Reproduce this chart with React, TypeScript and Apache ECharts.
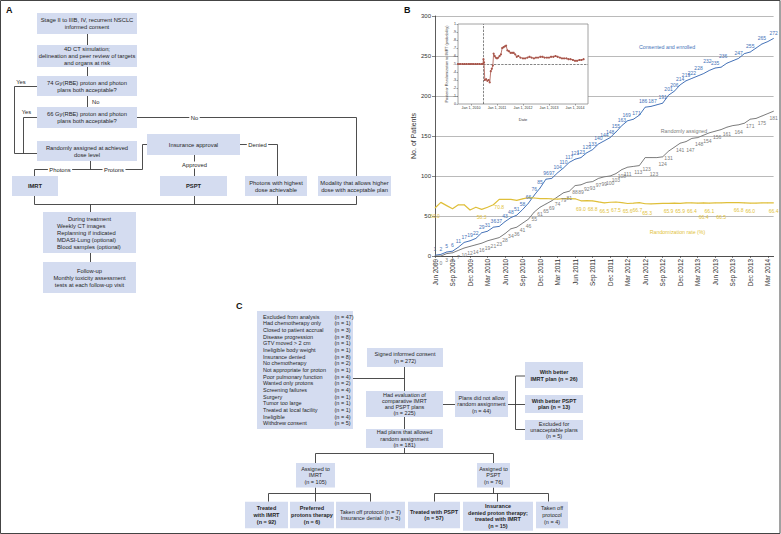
import React, { useEffect, useRef } from 'react';
import * as echarts from 'echarts';

// ---------- Panel B data ----------
const months = [
  'Jun 2009', 'Jul 2009', 'Aug 2009', 'Sep 2009', 'Oct 2009', 'Nov 2009', 'Dec 2009',
  'Jan 2010', 'Feb 2010', 'Mar 2010', 'Apr 2010', 'May 2010', 'Jun 2010', 'Jul 2010', 'Aug 2010', 'Sep 2010', 'Oct 2010', 'Nov 2010', 'Dec 2010',
  'Jan 2011', 'Feb 2011', 'Mar 2011', 'Apr 2011', 'May 2011', 'Jun 2011', 'Jul 2011', 'Aug 2011', 'Sep 2011', 'Oct 2011', 'Nov 2011', 'Dec 2011',
  'Jan 2012', 'Feb 2012', 'Mar 2012', 'Apr 2012', 'May 2012', 'Jun 2012', 'Jul 2012', 'Aug 2012', 'Sep 2012', 'Oct 2012', 'Nov 2012', 'Dec 2012',
  'Jan 2013', 'Feb 2013', 'Mar 2013', 'Apr 2013', 'May 2013', 'Jun 2013', 'Jul 2013', 'Aug 2013', 'Sep 2013', 'Oct 2013', 'Nov 2013', 'Dec 2013',
  'Jan 2014', 'Feb 2014', 'Mar 2014', 'Apr 2014',
];

const enrolled = [
  1, 2, 5, 6, 11, 17, 19, 22, 29, 31, 36, 37, 43, 48, 51, 58, 66, 76, 85, 96,
  97, 104, 110, 117, 121, 123, 129, 133, 140, 144, 148, 155, 163, 169, 171, 176, 186, 187, 189, 191,
  201, 206, 214, 219, 222, 225, 228, 232, 235, 236, 241, 244, 247, 253, 255, 260, 265, 268, 272,
];

const randomized = [
  0, 0, 3, 4, 7, 10, 12, 14, 16, 19, 21, 23, 28, 34, 36, 41, 46, 55, 61, 65,
  69, 74, 79, 81, 88, 89, 92, 93, 97, 99, 100, 103, 108, 111, 112, 113, 123, 123, 123, 124,
  131, 136, 141, 143, 147, 148, 151, 154, 156, 158, 161, 163, 164, 166, 171, 172, 175, 178, 181,
];

const randomizationRate = [
  60.0, 67, 63, 59, 64, 64, 57.5, 61, 58.3, 61, 64, 70.8, 70.8, 70.8, 69.5, 71.5, 73, 72.5, 71.8, 71.9,
  71.4, 71.1, 71.6, 71.8, 71.5, 69.0, 69.1, 68.8, 67.6, 66.5, 67.2, 67.5, 66.7, 65.6, 66.0, 66.7, 65.3, 65.1, 65.5, 65.9,
  65.9, 66.0, 65.9, 66.3, 66.4, 66.2, 66.4, 66.1, 66.3, 66.5, 66.6, 66.7, 66.8, 66.4, 66.0, 66.2, 66.3, 66.4, 66.4,
];

// month indices whose values are printed in the original
const enrolledLabeled = [
  0, 1, 2, 3, 4, 5, 6, 7, 8, 9, 10, 11, 12, 13, 14, 15, 16, 17, 18, 19, 20, 21, 22, 23, 24, 25, 26, 27, 28, 29,
  30, 31, 32, 33, 34, 36, 37, 39, 40, 41, 42, 43, 44, 46, 47, 48, 49, 52, 54, 56, 58,
];
const randomizedLabeled = [
  0, 1, 2, 3, 4, 5, 6, 7, 8, 9, 10, 11, 12, 13, 14, 15, 16, 17, 18, 19, 20, 21, 22, 23, 24, 25, 26, 27, 28, 29,
  30, 31, 32, 33, 35, 36, 37, 39, 40, 42, 44, 45, 47, 48, 50, 52, 54, 56, 58,
];
const rateLabeled = [0, 8, 11, 25, 27, 29, 31, 33, 35, 36, 40, 42, 44, 46, 47, 49, 52, 54, 58];

// inset: posterior probability of randomization to IMRT
const insetDates = [
  2009.50, 2009.58, 2009.67, 2009.75, 2009.83, 2009.92, 2010.00, 2010.08, 2010.17, 2010.25, 2010.33, 2010.42, 2010.46,
  2010.48, 2010.50, 2010.53, 2010.58, 2010.63, 2010.68, 2010.72, 2010.76, 2010.80, 2010.84, 2010.87, 2010.91, 2010.95,
  2011.00, 2011.05, 2011.10, 2011.15, 2011.20, 2011.25, 2011.30, 2011.35, 2011.40, 2011.46, 2011.52, 2011.58, 2011.64,
  2011.70, 2011.76, 2011.82, 2011.90, 2012.00, 2012.08, 2012.17, 2012.25, 2012.33, 2012.42, 2012.50, 2012.58, 2012.67,
  2012.75, 2012.83, 2012.92, 2013.00, 2013.08, 2013.17, 2013.25, 2013.33, 2013.42, 2013.50, 2013.58, 2013.67, 2013.75,
  2013.83, 2013.92, 2014.00, 2014.08, 2014.17, 2014.25, 2014.33,
];
const insetProb = [
  0.50, 0.50, 0.50, 0.50, 0.50, 0.50, 0.50, 0.50, 0.50, 0.50, 0.50, 0.50, 0.50,
  0.56, 0.52, 0.30, 0.31, 0.29, 0.30, 0.27, 0.41, 0.44, 0.48, 0.63, 0.60, 0.58,
  0.57, 0.58, 0.60, 0.62, 0.70, 0.71, 0.72, 0.73, 0.67, 0.66, 0.64, 0.64, 0.64,
  0.62, 0.59, 0.60, 0.58, 0.57, 0.57, 0.58, 0.59, 0.58, 0.57, 0.58, 0.58, 0.59,
  0.59, 0.58, 0.58, 0.58, 0.59, 0.59, 0.60, 0.59, 0.58, 0.57, 0.57, 0.57, 0.56,
  0.56, 0.55, 0.54, 0.54, 0.55, 0.55, 0.56,
];
const insetYears = [2010, 2011, 2012, 2013, 2014];

// ---------- Panel C data ----------
const excludedReasons = [
  'Excluded from analysis', 'Had chemotherapy only', 'Closed to patient accrual', 'Disease progression',
  'GTV moved > 2 cm', 'Ineligible body weight', 'Insurance denied', 'No chemotherapy',
  'Not appropriate for proton', 'Poor pulmonary function', 'Wanted only protons', 'Screening failures',
  'Surgery', 'Tumor too large', 'Treated at local facility', 'Ineligible', 'Withdrew consent',
];
const excludedCounts = [47, 1, 3, 8, 1, 1, 8, 2, 1, 4, 2, 4, 1, 1, 1, 4, 5];

// ---------- styles ----------
const FF = '"Liberation Sans", Arial, Helvetica, sans-serif';
const BOX = '#d4dcf0';
const TXT = '#262626';
const LINE = '#3a3a3a';
const BLUE = '#4673b8';
const GRAY = '#7c7c7c';
const GOLD = '#dfbf3a';
const RED = '#a9564b';

function T(text: string, x: number, y: number, o: any = {}) {
  return {
    type: 'text', x, y, silent: true, z: 10,
    style: {
      text, fill: o.color || TXT, fontSize: o.fs || 5.8, fontWeight: o.bold ? 'bold' : 'normal',
      fontFamily: FF, align: o.align || 'center', verticalAlign: o.va || 'middle', lineHeight: o.lh || 7,
      backgroundColor: o.bg, padding: o.bg ? [0, 1.5] : 0,
    },
  };
}
function R(x: number, y: number, w: number, h: number) {
  return { type: 'rect', silent: true, z: 9, shape: { x, y, width: w, height: h }, style: { fill: BOX } };
}
function B(x: number, y: number, w: number, h: number, text: string, o: any = {}) {
  return [R(x, y, w, h), T(text, x + w / 2, y + h / 2, o)];
}
function L(points: number[][]) {
  return { type: 'polyline', silent: true, z: 8, shape: { points }, style: { stroke: LINE, lineWidth: 0.9, fill: null } };
}

function buildGraphics() {
  const els: any[] = [];
  // frame
  els.push({ type: 'rect', silent: true, z: 1, shape: { x: 0.5, y: 0.5, width: 779.5, height: 533 }, style: { fill: null, stroke: '#444', lineWidth: 1 } });
  // panel letters
  els.push(T('A', 6, 6, { bold: true, fs: 9, align: 'left', va: 'top', color: '#111' }));
  els.push(T('B', 404, 6, { bold: true, fs: 9, align: 'left', va: 'top', color: '#111' }));
  els.push(T('C', 236, 302.5, { bold: true, fs: 9, align: 'left', va: 'top', color: '#111' }));

  // ----- Panel A -----
  els.push(...B(37, 13, 100, 21, 'Stage II to IIIB, IV, recurrent NSCLC\ninformed consent'));
  els.push(...B(37, 45, 100, 22, '4D CT simulation;\ndelineation and peer review of targets\nand organs at risk'));
  els.push(...B(37, 76, 100, 20, '74 Gy(RBE) proton and photon\nplans both acceptable?'));
  els.push(...B(37, 107, 100, 21, '66 Gy(RBE) proton and photon\nplans both acceptable?'));
  els.push(...B(37, 141, 100, 20, 'Randomly assigned at achieved\ndose level'));
  els.push(...B(12, 176, 46, 20, 'IMRT', { bold: true }));
  els.push(...B(147, 134, 93, 21, 'Insurance approval'));
  els.push(...B(160, 176, 67, 20, 'PSPT', { bold: true }));
  els.push(...B(245, 176, 62, 20, 'Photons with highest\ndose achievable'));
  els.push(...B(318, 176, 73, 20, 'Modality that allows higher\ndose with acceptable plan'));
  els.push(R(43, 212, 93, 41));
  els.push(T('During treatment', 89.5, 219));
  els.push(T('Weekly CT images', 57, 226.2, { align: 'left' }));
  els.push(T('Replanning if indicated', 57, 233, { align: 'left' }));
  els.push(T('MDASI-Lung (optional)', 57, 239.8, { align: 'left' }));
  els.push(T('Blood samples (optional)', 57, 246.6, { align: 'left' }));
  els.push(...B(43, 262, 93, 31, 'Follow-up\nMonthly toxicity assessment\ntests at each follow-up visit'));

  els.push(L([[87.5, 34], [87.5, 45]]));
  els.push(L([[87.5, 67], [87.5, 76]]));
  els.push(L([[87.5, 96], [87.5, 107]]));
  els.push(T('No', 92, 101.5, { align: 'left' }));
  els.push(L([[37, 86.5], [14.5, 86.5], [14.5, 153.5], [37, 153.5]]));
  els.push(L([[37, 117.5], [23.5, 117.5], [23.5, 153.5]]));
  els.push(T('Yes', 21, 81.5));
  els.push(T('Yes', 26.5, 112.3));
  els.push(L([[137, 117.5], [356.5, 117.5], [356.5, 176]]));
  els.push(T('No', 194.5, 117.5, { bg: '#fff' }));
  els.push(L([[90.5, 161], [90.5, 169.5]]));
  els.push(L([[34.5, 176], [34.5, 169.5], [142.5, 169.5], [142.5, 144.5], [147, 144.5]]));
  els.push(T('Photons', 60, 169.5, { bg: '#fff' }));
  els.push(T('Protons', 114, 169.5, { bg: '#fff' }));
  els.push(L([[194.5, 155], [194.5, 176]]));
  els.push(T('Approved', 194.5, 165, { bg: '#fff' }));
  els.push(L([[240, 144.5], [277.5, 144.5], [277.5, 176]]));
  els.push(T('Denied', 257.5, 144.5, { bg: '#fff' }));
  els.push(L([[34.5, 196], [34.5, 204.5], [356.5, 204.5], [356.5, 196]]));
  els.push(L([[194.5, 196], [194.5, 204.5]]));
  els.push(L([[277.5, 196], [277.5, 204.5]]));
  els.push(L([[90.5, 204.5], [90.5, 212]]));
  els.push(L([[90.5, 253], [90.5, 262]]));

  // ----- Panel C -----
  const cf = 5.5;
  els.push(R(257, 311, 96, 118));
  excludedReasons.forEach((r, i) => {
    const y = 316.7 + i * 6.67;
    els.push(T(r, 263, y, { fs: cf, align: 'left' }));
    els.push(T('(n = ' + excludedCounts[i] + ')', 334.5, y, { fs: cf, align: 'left' }));
  });
  els.push(...B(367, 348, 76, 19, 'Signed informed consent\n(n = 272)', { fs: cf, lh: 6.8 }));
  els.push(L([[404.5, 367], [404.5, 391]]));
  els.push(L([[353, 378.5], [404.5, 378.5]]));
  els.push(...B(366, 391, 77, 26, 'Had evaluation of\ncomparative IMRT\nand PSPT plans\n(n = 225)', { fs: cf, lh: 6.3 }));
  els.push(L([[404.5, 417], [404.5, 429]]));
  els.push(...B(366, 429, 77, 19, 'Had plans that allowed\nrandom assignment\n(n = 181)', { fs: cf, lh: 6.3 }));
  els.push(L([[443, 404.5], [455, 404.5]]));
  els.push(...B(455, 391, 53, 26, 'Plans did not allow\nrandom assignment\n(n = 44)', { fs: cf, lh: 6.5 }));
  els.push(L([[508, 404.5], [525, 404.5]]));
  els.push(L([[525, 376], [515.5, 376], [515.5, 429.5], [525, 429.5]]));
  els.push(...B(525, 362, 58, 26, 'With better\nIMRT plan (n = 26)', { fs: cf, bold: true, lh: 7 }));
  els.push(...B(525, 395, 58, 18, 'With better PSPT\nplan (n = 13)', { fs: cf, bold: true, lh: 6.8 }));
  els.push(...B(525, 420, 58, 20, 'Excluded for\nunacceptable plans\n(n = 5)', { fs: cf, lh: 6.3 }));

  els.push(L([[404.5, 448], [404.5, 453.5]]));
  els.push(L([[315.5, 463], [315.5, 453.5], [493.5, 453.5], [493.5, 463]]));
  els.push(...B(296, 463, 39, 24.5, 'Assigned to\nIMRT\n(n = 105)', { fs: cf, lh: 6.6 }));
  els.push(...B(477, 463, 33, 24.5, 'Assigned to\nPSPT\n(n = 76)', { fs: cf, lh: 6.6 }));
  els.push(L([[315.5, 487.5], [315.5, 501.7]]));
  els.push(L([[268.5, 501.7], [268.5, 493.5], [370.5, 493.5], [370.5, 501.7]]));
  els.push(L([[493.5, 487.5], [493.5, 493.5]]));
  els.push(L([[434.5, 501.7], [434.5, 493.5], [548.5, 493.5], [548.5, 501.7]]));
  els.push(L([[497.5, 493.5], [497.5, 501.7]]));
  els.push(...B(245, 501.7, 43, 26.6, 'Treated\nwith IMRT\n(n = 92)', { fs: cf, bold: true, lh: 6.8 }));
  els.push(...B(290, 501.7, 44, 26.6, 'Preferred\nprotons therapy\n(n = 6)', { fs: cf, bold: true, lh: 6.8 }));
  els.push(...B(336, 501.7, 69, 26.6, 'Taken off protocol (n = 7)\nInsurance denial  (n = 3)', { fs: cf, lh: 6.8 }));
  els.push(...B(408, 501.7, 52, 26.6, 'Treated with PSPT\n(n = 57)', { fs: cf, bold: true, lh: 6.8 }));
  els.push(...B(463, 501.7, 70, 29, 'Insurance\ndenied proton therapy;\ntreated with IMRT\n(n = 15)', { fs: cf, bold: true, lh: 6.6 }));
  els.push(...B(536, 501.7, 32, 26.6, 'Taken off\nprotocol\n(n = 4)', { fs: cf, lh: 6.8 }));

  // ----- Panel B annotations -----
  els.push(T('Consented and enrolled', 667, 47, { fs: 5.3, color: BLUE }));
  els.push(T('Randomly assigned', 684, 131, { fs: 5.3, color: GRAY }));
  els.push(T('Randomization rate (%)', 677.5, 232, { fs: 5.3, color: GOLD }));
  return els;
}

function labeledData(values: number[], shown: number[], offsets: Record<number, number[]>) {
  return values.map((v, i) => ({
    value: v,
    label: offsets[i] ? { show: shown.includes(i), offset: offsets[i] } : { show: shown.includes(i) },
  }));
}

export default function App() {
  const ref = useRef<HTMLDivElement>(null);
  useEffect(() => {
    document.body.style.margin = '0';
    const chart = echarts.init(ref.current!, null, { renderer: 'svg' });
    // label nudges (placement only) to mimic the staggered printed values
    const blueOffsets: Record<number, number[]> = {
      33: [-1, 0], 34: [3, 0], 36: [-2, 0], 37: [1.5, 0], 46: [-5, 0], 47: [-2, -4], 48: [0, 1], 49: [2, -5],
    };
    const grayOffsets: Record<number, number[]> = {
      35: [-1, 0], 36: [1.5, 5], 37: [3, 10], 44: [-1.5, 5], 45: [1.5, 0], 47: [-2, 1], 48: [2, -1],
    };
    const rateOffsets: Record<number, number[]> = { 35: [-2, 0], 36: [2, 1], 46: [0, 6], 49: [0, 6] };
    const option: any = {
      animation: false,
      backgroundColor: '#fff',
      textStyle: { fontFamily: FF },
      grid: [
        { left: 435, top: 16, width: 338.6, height: 240 },
        { left: 458, top: 24, width: 130, height: 80, show: true, backgroundColor: '#fff', borderColor: '#8a8a8a', borderWidth: 0.8, z: 3 },
      ],
      xAxis: [
        {
          type: 'category', gridIndex: 0, data: months, boundaryGap: false,
          axisLine: { lineStyle: { color: '#333', width: 0.8 } },
          axisTick: { interval: 2, length: 2, lineStyle: { color: '#333', width: 0.6 } },
          axisLabel: { interval: 2, rotate: 90, fontSize: 6.4, color: '#333', margin: 3 },
          splitLine: { show: false },
        },
        {
          type: 'value', gridIndex: 1, min: 2009.5, max: 2014.5, z: 4,
          axisLine: { show: false }, splitLine: { show: false },
          axisTick: { show: true, customValues: insetYears, length: 1.5, lineStyle: { color: '#555', width: 0.5 } },
          axisLabel: { customValues: insetYears, formatter: (v: number) => 'Jan 1, ' + v, fontSize: 3.6, color: '#333', margin: 2 },
          name: 'Date', nameLocation: 'middle', nameGap: 13, nameTextStyle: { fontSize: 4, color: '#333' },
        },
      ],
      yAxis: [
        {
          type: 'value', gridIndex: 0, min: 0, max: 300, interval: 50,
          axisLine: { show: true, lineStyle: { color: '#333', width: 0.8 } },
          axisTick: { show: true, length: 3, lineStyle: { color: '#333', width: 0.6 } },
          axisLabel: { fontSize: 6, color: '#333', margin: 4 },
          splitLine: { lineStyle: { color: '#a8a8a8', width: 0.8 } },
          name: 'No. of Patients', nameLocation: 'middle', nameGap: 18, nameTextStyle: { fontSize: 7, color: '#333' },
        },
        {
          type: 'value', gridIndex: 1, min: 0, max: 1, interval: 0.1, z: 4,
          axisLine: { show: false }, splitLine: { show: false },
          axisTick: { show: true, length: 1.5, lineStyle: { color: '#555', width: 0.5 } },
          axisLabel: {
            fontSize: 3.6, color: '#333', margin: 2,
            formatter: (v: number) => (v <= 0 ? '0' : v >= 1 ? '1' : '.' + Math.round(v * 10)),
          },
          name: 'Posterior Randomization to IMRT (probability)', nameLocation: 'middle', nameGap: 9,
          nameTextStyle: { fontSize: 3.8, color: '#333' },
        },
      ],
      series: [
        {
          type: 'line', name: 'Consented and enrolled', xAxisIndex: 0, yAxisIndex: 0,
          data: labeledData(enrolled, enrolledLabeled, blueOffsets),
          symbol: 'circle', symbolSize: 0.6, showSymbol: true, showAllSymbol: true,
          lineStyle: { color: BLUE, width: 1 }, itemStyle: { color: BLUE },
          label: { show: false, position: 'top', distance: 3, fontSize: 5, color: BLUE, fontFamily: FF },
          z: 2,
        },
        {
          type: 'line', name: 'Randomly assigned', xAxisIndex: 0, yAxisIndex: 0,
          data: labeledData(randomized, randomizedLabeled, grayOffsets),
          symbol: 'circle', symbolSize: 0.6, showSymbol: true, showAllSymbol: true,
          lineStyle: { color: GRAY, width: 1 }, itemStyle: { color: GRAY },
          label: { show: false, position: 'bottom', distance: 4, fontSize: 5, color: GRAY, fontFamily: FF },
          z: 2,
        },
        {
          type: 'line', name: 'Randomization rate (%)', xAxisIndex: 0, yAxisIndex: 0,
          data: labeledData(randomizationRate, rateLabeled, rateOffsets),
          symbol: 'circle', symbolSize: 0.6, showSymbol: true, showAllSymbol: true,
          lineStyle: { color: GOLD, width: 1.2 }, itemStyle: { color: GOLD },
          label: {
            show: false, position: 'bottom', distance: 5, fontSize: 5, color: GOLD, fontFamily: FF,
            formatter: (p: any) => Number(p.value).toFixed(1),
          },
          z: 2,
        },
        {
          type: 'line', name: 'Posterior', xAxisIndex: 1, yAxisIndex: 1,
          data: insetDates.map((d, i) => [d, insetProb[i]]),
          symbol: 'circle', symbolSize: 2.2, showSymbol: true, showAllSymbol: true,
          lineStyle: { color: RED, width: 0.8 }, itemStyle: { color: RED },
          z: 5,
          markLine: {
            silent: true, symbol: ['none', 'none'], label: { show: false },
            lineStyle: { type: 'dashed', color: '#333', width: 0.6 },
            data: [{ xAxis: 2010.46 }, { yAxis: 0.5 }],
          },
        },
      ],
      graphic: { elements: buildGraphics() },
    };
    chart.setOption(option);
    return () => chart.dispose();
  }, []);
  return <div ref={ref} style={{ position: 'fixed', left: 0, top: 0, width: 781, height: 534, background: '#fff' }} />;
}
